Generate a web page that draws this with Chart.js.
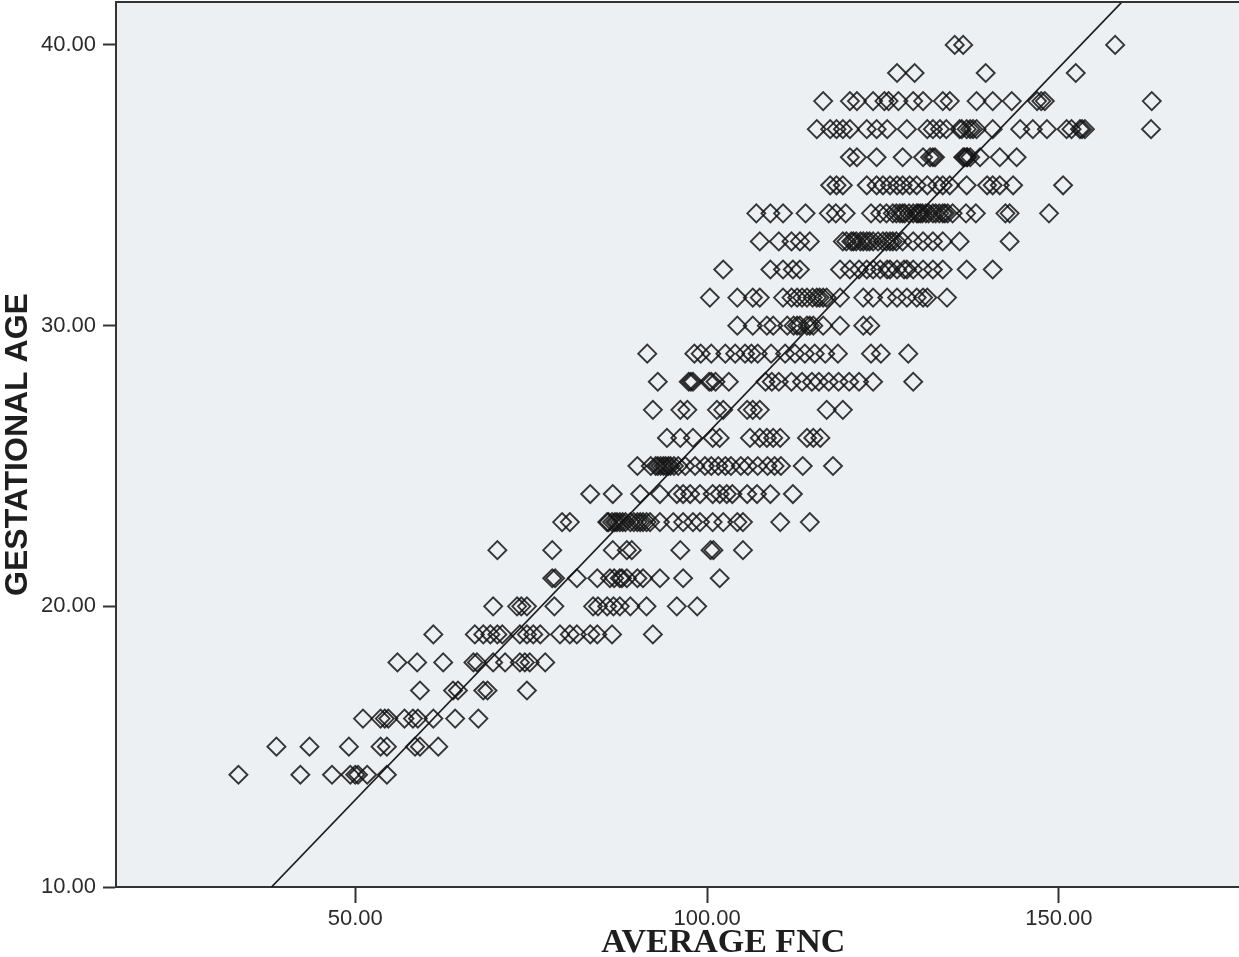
<!DOCTYPE html>
<html>
<head>
<meta charset="utf-8">
<script src="https://cdn.jsdelivr.net/npm/chart.js@4.4.1/dist/chart.umd.min.js"></script>
<style>
  html, body { margin: 0; padding: 0; background: #fff; }
  #wrap { width: 1239px; height: 957px; position: relative; }
</style>
</head>
<body>
<div id="wrap"><canvas id="mycanvas"></canvas></div>
<script>
// gestational age (weeks) for each row of points
var gaRows = [14, 15, 16, 17, 18, 19, 20, 21, 22, 23, 24, 25, 26, 27,
              28, 29, 30, 31, 32, 33, 34, 35, 36, 37, 38, 39, 40];

// average FNC values, one list per GA row
var fncRows = [
  [33.4, 42.2, 46.7, 49.3, 50.0, 50.4, 51.7, 54.5],
  [38.8, 43.5, 49.1, 53.6, 54.5, 58.5, 59.2, 61.8],
  [51.1, 53.6, 54.2, 54.7, 57.0, 58.2, 58.9, 61.1, 64.2, 67.5],
  [59.2, 63.9, 64.6, 68.2, 68.8, 74.4],
  [56.0, 58.8, 62.5, 66.8, 67.3, 69.6, 71.3, 73.4, 74.1, 74.8, 77.0],
  [61.1, 67.0, 68.2, 69.2, 70.2, 70.9, 73.4, 74.4, 75.3, 76.3, 79.1, 80.5, 81.5, 83.4, 84.4, 86.5, 92.3],
  [69.6, 73.0, 73.6, 74.4, 78.3, 83.8, 84.5, 85.8, 86.7, 87.6, 89.1, 91.4, 95.7, 98.6],
  [78.0, 78.4, 81.5, 84.4, 86.2, 86.8, 87.6, 87.9, 88.6, 90.1, 90.9, 93.3, 96.6, 101.8],
  [70.2, 78.0, 86.6, 88.6, 89.3, 96.2, 100.5, 100.9, 105.1],
  [79.4, 80.5, 85.8, 86.0, 86.5, 86.9, 87.2, 87.6, 88.0, 88.4, 89.1, 89.6, 90.1, 90.5, 90.9, 91.4, 91.9, 93.3, 95.2, 96.6, 98.0, 99.0, 100.8, 102.3, 104.3, 105.1, 110.4, 114.6],
  [83.4, 86.6, 90.5, 93.3, 95.7, 96.6, 97.6, 99.0, 100.8, 101.8, 102.8, 103.6, 105.7, 107.1, 109.0, 112.2],
  [90.1, 92.0, 92.7, 93.0, 93.4, 93.8, 94.1, 94.5, 94.8, 95.3, 95.9, 96.9, 98.3, 99.7, 100.6, 101.6, 102.6, 103.4, 104.8, 105.8, 107.2, 108.6, 109.6, 110.5, 113.6, 117.9],
  [94.3, 96.2, 98.0, 100.8, 101.8, 106.1, 107.5, 108.5, 109.4, 110.4, 114.2, 115.1, 116.1],
  [92.3, 96.2, 97.2, 101.4, 102.3, 105.7, 106.5, 107.5, 117.0, 119.3],
  [93.0, 97.4, 97.7, 98.0, 100.3, 100.6, 101.2, 103.1, 108.3, 109.2, 110.2, 112.0, 113.5, 114.9, 115.9, 117.3, 118.7, 120.2, 121.6, 123.6, 129.3],
  [91.5, 98.2, 99.1, 100.6, 102.6, 104.0, 105.4, 106.3, 107.2, 109.1, 111.1, 112.5, 113.9, 115.3, 116.8, 118.6, 123.3, 124.7, 128.6],
  [104.3, 106.5, 108.5, 109.4, 111.4, 112.3, 112.8, 113.2, 114.2, 114.6, 115.1, 116.5, 118.9, 122.2, 123.2],
  [100.4, 104.3, 106.5, 107.5, 110.8, 112.0, 112.8, 113.5, 114.2, 115.0, 115.6, 116.0, 116.5, 117.0, 118.9, 122.2, 123.6, 125.6, 127.0, 128.4, 129.8, 130.7, 131.3, 134.1],
  [102.3, 109.0, 110.8, 112.2, 113.2, 118.9, 120.3, 121.6, 122.7, 123.6, 124.6, 125.6, 126.0, 127.0, 128.0, 128.4, 129.3, 130.7, 132.1, 133.5, 136.9, 140.6],
  [107.5, 110.2, 112.0, 113.2, 114.6, 119.3, 119.8, 120.5, 120.8, 121.2, 121.8, 122.2, 122.7, 123.1, 123.6, 124.3, 125.0, 125.5, 126.0, 126.4, 126.9, 127.8, 129.3, 130.7, 132.1, 133.5, 135.9, 143.0],
  [107.0, 109.0, 110.8, 114.0, 117.3, 118.3, 119.7, 123.3, 124.6, 125.5, 126.4, 126.9, 127.4, 127.8, 128.1, 128.7, 129.3, 129.8, 130.0, 130.3, 130.6, 131.1, 131.5, 132.1, 132.5, 133.0, 133.5, 133.8, 134.2, 134.9, 136.8, 138.2, 142.4, 143.0, 148.6],
  [117.5, 118.4, 119.3, 122.7, 124.1, 125.0, 126.0, 127.0, 127.8, 128.8, 129.8, 131.3, 132.7, 133.5, 134.5, 136.9, 139.8, 140.6, 141.6, 143.5, 150.6],
  [120.3, 121.3, 124.1, 127.8, 130.7, 131.7, 132.1, 132.4, 136.4, 136.6, 136.9, 137.0, 137.4, 138.8, 141.6, 144.0],
  [115.6, 117.5, 118.4, 119.3, 120.3, 122.7, 124.1, 125.6, 128.4, 131.3, 132.1, 133.1, 134.0, 135.9, 136.2, 136.9, 137.4, 137.8, 138.3, 140.6, 144.5, 146.3, 148.3, 151.1, 151.8, 153.0, 153.3, 153.7, 163.1],
  [116.5, 120.3, 121.3, 123.6, 125.2, 125.8, 127.2, 129.3, 130.7, 133.5, 134.5, 138.3, 140.6, 143.3, 146.9, 147.5, 148.0, 163.2],
  [127.0, 129.5, 139.6, 152.4],
  [135.2, 136.4, 158.0]
];

// fit line end points
var fitX = [38.1, 160.0];
var fitY = [10.0, 41.8];

var xTicks = [50, 100, 150];
var yTicks = [10, 20, 30, 40];

var xTitle = 'AVERAGE FNC';
var yTitle = 'GESTATIONAL AGE';

var points = [];
for (var i in gaRows) {
  for (var j in fncRows[i]) {
    points.push({ x: fncRows[i][j], y: gaRows[i] });
  }
}
var fitLine = [];
for (var k in fitX) {
  fitLine.push({ x: fitX[k], y: fitY[k] });
}

// plot background, top frame line, x title (sits right of centre like the original)
var plotFrame = {
  id: 'plotFrame',
  beforeDraw: function(chart) {
    var a = chart.chartArea, c = chart.ctx;
    c.save();
    c.fillStyle = '#edf0f3';
    c.fillRect(a.left, a.top, a.right - a.left, a.bottom - a.top);
    c.restore();
  },
  afterDraw: function(chart) {
    var a = chart.chartArea, c = chart.ctx;
    c.save();
    c.strokeStyle = '#333';
    c.lineWidth = 2;
    c.beginPath();
    c.moveTo(a.left, a.top);
    c.lineTo(a.right, a.top);
    c.stroke();

    c.fillStyle = '#1e1e1e';
    c.font = 'bold 34px "Liberation Serif", "Times New Roman", serif';
    c.textAlign = 'center';
    c.textBaseline = 'alphabetic';
    c.fillText(xTitle, chart.scales.x.getPixelForValue(102.3), 952);
    c.restore();
  }
};

var ctx = document.getElementById('mycanvas');

var scatter = new Chart(ctx, {
  type: 'scatter',
  data: {
    datasets: [
      {
        label: 'GA',
        data: points,
        pointStyle: 'rectRot',
        pointRadius: 9,
        pointHoverRadius: 9,
        borderWidth: 1.9,
        borderColor: 'rgba(20, 20, 20, 0.85)',
        backgroundColor: 'rgba(0, 0, 0, 0)'
      },
      {
        label: 'Fit',
        type: 'line',
        data: fitLine,
        borderColor: '#1e1e1e',
        borderWidth: 1.7,
        pointRadius: 0,
        fill: false
      }
    ]
  },
  options: {
    responsive: true,
    maintainAspectRatio: false,
    animation: false,
    events: [],
    layout: { autoPadding: false, padding: { top: 2 } },
    plugins: {
      legend: { display: false },
      tooltip: { enabled: false }
    },
    scales: {
      x: {
        type: 'linear',
        min: 16,
        max: 175.6,
        afterBuildTicks: function(scale) {
          scale.ticks = xTicks.map(function(v) { return { value: v }; });
        },
        afterFit: function(scale) {
          scale.height = 70;
          scale.paddingLeft = 0;
          scale.paddingRight = 0;
        },
        border: { display: true, color: '#333', width: 2 },
        grid: { drawOnChartArea: false, drawTicks: true, tickLength: 16, tickColor: '#333', tickWidth: 2 },
        ticks: {
          autoSkip: false,
          maxRotation: 0,
          padding: 3,
          color: '#2b2b2b',
          font: { family: 'Liberation Sans, Arial, sans-serif', size: 22 },
          callback: function(v) { return Number(v).toFixed(2); }
        },
        title: { display: false }
      },
      y: {
        type: 'linear',
        min: 10,
        max: 41.53,
        afterBuildTicks: function(scale) {
          scale.ticks = yTicks.map(function(v) { return { value: v }; });
        },
        afterFit: function(scale) {
          scale.width = 116;
          scale.paddingTop = 0;
          scale.paddingBottom = 0;
        },
        border: { display: true, color: '#333', width: 2 },
        grid: { drawOnChartArea: false, drawTicks: true, tickLength: 13, tickColor: '#333', tickWidth: 2 },
        ticks: {
          autoSkip: false,
          padding: 7,
          color: '#2b2b2b',
          font: { family: 'Liberation Sans, Arial, sans-serif', size: 22 },
          callback: function(v) { return Number(v).toFixed(2); }
        },
        title: {
          display: true,
          text: yTitle,
          color: '#1e1e1e',
          padding: { top: 2, bottom: 0 },
          font: { family: 'Liberation Sans, Arial, sans-serif', size: 32, weight: 'bold', lineHeight: 1 }
        }
      }
    }
  },
  plugins: [plotFrame]
});
</script>
</body>
</html>
